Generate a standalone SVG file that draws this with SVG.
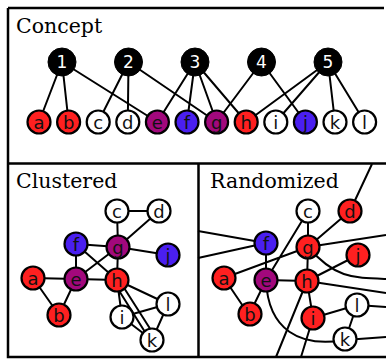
<svg xmlns="http://www.w3.org/2000/svg" width="386" height="360" viewBox="0 0 386 360">
<style>
.frame{fill:none;stroke:#000;stroke-width:2.5}
.edge{fill:none;stroke:#000;stroke-width:2}
.title{font-family:"DejaVu Serif",serif;font-size:20.5px;fill:#000}
.hub circle{fill:#000;stroke:#000;stroke-width:1}
.hub text{font-family:"DejaVu Sans",sans-serif;font-size:17px;fill:#fff;text-anchor:middle}
.n circle{stroke:#000;stroke-width:2.2}
.n text{font-family:"DejaVu Sans",sans-serif;font-size:18px;fill:#111;text-anchor:middle}
.r circle{fill:#ff2020}
.m circle{fill:#a2087c}
.b circle{fill:#4a1ff0}
.w circle{fill:#fff}
</style>
<rect width="386" height="360" fill="#fff"/>
<g id="frames">
<path class="frame" d="M8,8 H384 M8,8 V357 H388 M8,163.5 H388 M198.5,163.5 V357"/>
</g>
<g id="titles">
<text class="title" x="16" y="33">Concept</text>
<text class="title" x="16" y="188">Clustered</text>
<text class="title" x="210" y="188">Randomized</text>
</g>
<g id="connectors">
<g id="concept-edges">
<path class="edge" d="M62,62 L39,122 M62,62 L68.6,122 M62,62 L157.4,122 M128.5,62 L98.2,122 M128.5,62 L127.8,122 M128.5,62 L216.6,122 M195,62 L157.4,122 M195,62 L187,122 M195,62 L216.6,122 M195,62 L246.2,122 M261.5,62 L216.6,122 M261.5,62 L305.4,122 M328,62 L246.2,122 M328,62 L275.8,122 M328,62 L335,122 M328,62 L364.6,122"/>
</g>
<g id="clustered-edges">
<path class="edge" d="M33,278 L59,315 M33,278 L76,279 M59,315 L76,279 M117,211 L159,211 M117,211 L118,247 M159,211 L118,247 M76,279 L76,244 M76,279 L118,247 M76,279 L117,280 M76,244 L118,247 M76,244 L117,280 M118,247 L117,280 M118,247 L168,255 M117,280 L122,317 M113,281 L150,340 M119,280 L156,338 M117,280 L168,304 M122,317 L168,304 M122,317 L152,340 M168,304 L152,340"/>
</g>
<g id="randomized-edges">
<path class="edge" d="M198,231 L266,243 M198,258 L266,243 M266,243 L266,280 M224,278 L308,247 M224,278 L249,315 M249,315 L266,280 M266,280 L307,281 M266,280 L308,211 M308,211 L308,247 M350,211 L308,247 M350,211 L372,164 M308,247 L386,235 M308,247 L307,281 M307,281 L358,255 M307,281 L386,293 M307,281 L276,357 M307,281 L313,318 M313,318 L301,357 M313,318 L357,305 M357,305 L386,307 M357,305 L345,340 M345,340 L386,337"/>
<path class="edge" d="M308,247 C335,278 352,278 386,279"/>
<path class="edge" d="M266,280 C268,330 300,348 345,340"/>
</g>
</g>
<g id="concept-nodes">
<g id="c-1" class="hub"><circle cx="62" cy="62" r="14"/><text x="62" y="67.5">1</text></g>
<g id="c-2" class="hub"><circle cx="128.5" cy="62" r="14"/><text x="128.5" y="67.5">2</text></g>
<g id="c-3" class="hub"><circle cx="195" cy="62" r="14"/><text x="195" y="67.5">3</text></g>
<g id="c-4" class="hub"><circle cx="261.5" cy="62" r="14"/><text x="261.5" y="67.5">4</text></g>
<g id="c-5" class="hub"><circle cx="328" cy="62" r="14"/><text x="328" y="67.5">5</text></g>
<g id="c-a" class="n r"><circle cx="39" cy="122" r="11.5"/><text x="39" y="129">a</text></g>
<g id="c-b" class="n r"><circle cx="68.6" cy="122" r="11.5"/><text x="68.6" y="129">b</text></g>
<g id="c-c" class="n w"><circle cx="98.2" cy="122" r="11.5"/><text x="98.2" y="129">c</text></g>
<g id="c-d" class="n w"><circle cx="127.8" cy="122" r="11.5"/><text x="127.8" y="129">d</text></g>
<g id="c-e" class="n m"><circle cx="157.4" cy="122" r="11.5"/><text x="157.4" y="129">e</text></g>
<g id="c-f" class="n b"><circle cx="187" cy="122" r="11.5"/><text x="187" y="129">f</text></g>
<g id="c-g" class="n m"><circle cx="216.6" cy="122" r="11.5"/><text x="216.6" y="129">g</text></g>
<g id="c-h" class="n r"><circle cx="246.2" cy="122" r="11.5"/><text x="246.2" y="129">h</text></g>
<g id="c-i" class="n w"><circle cx="275.8" cy="122" r="11.5"/><text x="275.8" y="129">i</text></g>
<g id="c-j" class="n b"><circle cx="305.4" cy="122" r="11.5"/><text x="305.4" y="129">j</text></g>
<g id="c-k" class="n w"><circle cx="335" cy="122" r="11.5"/><text x="335" y="129">k</text></g>
<g id="c-l" class="n w"><circle cx="364.6" cy="122" r="11.5"/><text x="364.6" y="129">l</text></g>
</g>
<g id="clustered-nodes">
<g id="cl-c" class="n w"><circle cx="117" cy="211" r="11.5"/><text x="117" y="218">c</text></g>
<g id="cl-d" class="n w"><circle cx="159" cy="211" r="11.5"/><text x="159" y="218">d</text></g>
<g id="cl-f" class="n b"><circle cx="76" cy="244" r="11.5"/><text x="76" y="251">f</text></g>
<g id="cl-g" class="n m"><circle cx="118" cy="247" r="11.5"/><text x="118" y="254">g</text></g>
<g id="cl-j" class="n b"><circle cx="168" cy="255" r="11.5"/><text x="168" y="262">j</text></g>
<g id="cl-a" class="n r"><circle cx="33" cy="278" r="11.5"/><text x="33" y="285">a</text></g>
<g id="cl-e" class="n m"><circle cx="76" cy="279" r="11.5"/><text x="76" y="286">e</text></g>
<g id="cl-h" class="n r"><circle cx="117" cy="280" r="11.5"/><text x="117" y="287">h</text></g>
<g id="cl-b" class="n r"><circle cx="59" cy="315" r="11.5"/><text x="59" y="322">b</text></g>
<g id="cl-l" class="n w"><circle cx="168" cy="304" r="11.5"/><text x="168" y="311">l</text></g>
<g id="cl-i" class="n w"><circle cx="122" cy="317" r="11.5"/><text x="122" y="324">i</text></g>
<g id="cl-k" class="n w"><circle cx="152" cy="340" r="11.5"/><text x="152" y="347">k</text></g>
</g>
<g id="randomized-nodes">
<g id="rn-c" class="n w"><circle cx="308" cy="211" r="11.5"/><text x="308" y="218">c</text></g>
<g id="rn-d" class="n r"><circle cx="350" cy="211" r="11.5"/><text x="350" y="218">d</text></g>
<g id="rn-f" class="n b"><circle cx="266" cy="243" r="11.5"/><text x="266" y="250">f</text></g>
<g id="rn-g" class="n r"><circle cx="308" cy="247" r="11.5"/><text x="308" y="254">g</text></g>
<g id="rn-j" class="n r"><circle cx="358" cy="255" r="11.5"/><text x="358" y="262">j</text></g>
<g id="rn-a" class="n r"><circle cx="224" cy="278" r="11.5"/><text x="224" y="285">a</text></g>
<g id="rn-e" class="n m"><circle cx="266" cy="280" r="11.5"/><text x="266" y="287">e</text></g>
<g id="rn-h" class="n r"><circle cx="307" cy="281" r="11.5"/><text x="307" y="288">h</text></g>
<g id="rn-b" class="n r"><circle cx="250" cy="314" r="11.5"/><text x="250" y="321">b</text></g>
<g id="rn-i" class="n r"><circle cx="313" cy="318" r="11.5"/><text x="313" y="325">i</text></g>
<g id="rn-l" class="n w"><circle cx="357" cy="305" r="11.5"/><text x="357" y="312">l</text></g>
<g id="rn-k" class="n w"><circle cx="345" cy="339" r="11.5"/><text x="345" y="346">k</text></g>
</g>
</svg>
